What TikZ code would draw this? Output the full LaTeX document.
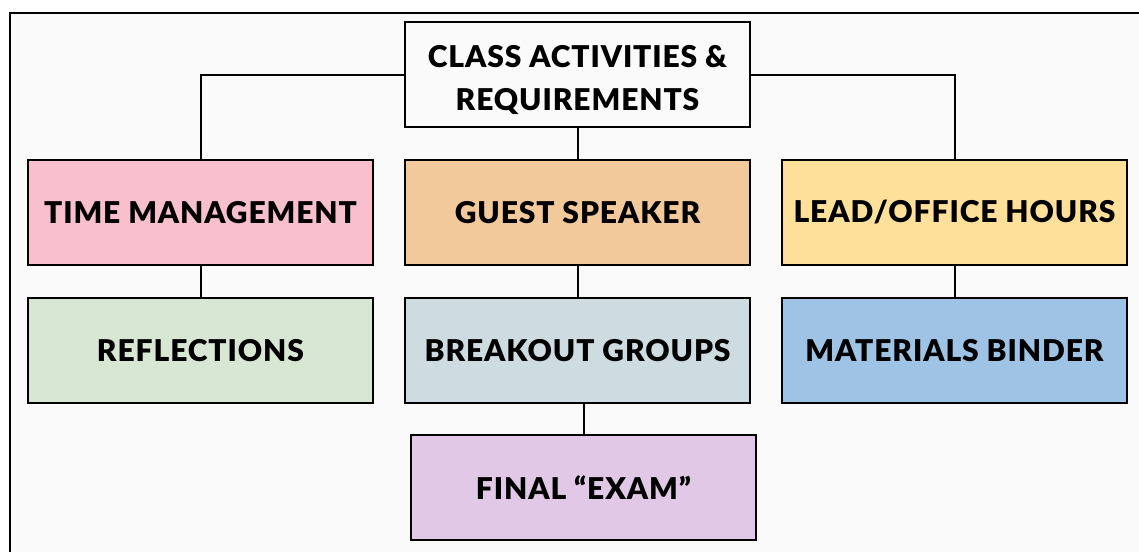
\documentclass[tikz,border=0pt]{standalone}
\usepackage{fontspec}
\setmainfont{Lato}
\newfontfamily\labelfont{Lato Black}[LetterSpace=3]
\begin{document}
\begin{tikzpicture}[x=1pt,y=-1pt,
  labeltext/.style={align=center, font=\fontsize{30}{43}\selectfont\labelfont},
  box/.style={draw=black, line width=2pt, rectangle, minimum width=345pt, minimum height=105pt,
    inner sep=0pt, labeltext},
  link/.style={draw=black, line width=2pt}]
  \useasboundingbox (0,0) rectangle (1139,552);
  \fill[white] (0,0) rectangle (1139,552);
  \fill[black!2] (10,13) rectangle (1139,552);
  \draw[line width=2pt] (10,552) -- (10,13) -- (1139,13);

  % root box, with its two-line title set a little below centre
  \node[box, fill=white!98!black] (root) at (577.5,74.5) {};
  \node[labeltext] (roottext) at ([yshift=-5pt]root.center) {CLASS ACTIVITIES \&\\REQUIREMENTS};

  \node[box, fill={rgb,255:red,248;green,192;blue,204}] (tm) at (200.5,212.5) {TIME MANAGEMENT};
  \node[box, fill={rgb,255:red,242;green,201;blue,155}] (gs) at (577.5,212.5) {GUEST SPEAKER};
  \node[box, fill={rgb,255:red,254;green,224;blue,155}] (lo) at (954.5,212.5) {LEAD/OFFICE HOURS};
  \node[box, fill={rgb,255:red,216;green,230;blue,212}] (rf) at (200.5,350.5) {REFLECTIONS};
  \node[box, fill={rgb,255:red,206;green,220;blue,226}] (bg) at (577.5,350.5) {BREAKOUT GROUPS};
  \node[box, fill={rgb,255:red,158;green,195;blue,229}] (mb) at (954.5,350.5) {MATERIALS BINDER};
  \node[box, fill={rgb,255:red,225;green,200;blue,230}] (fe) at (583.5,487.5) {FINAL “EXAM”};

  \draw[link] (root.west) -| (tm.north);
  \draw[link] (root.east) -| (lo.north);
  \draw[link] (root.south) -- (gs.north);
  \draw[link] (tm.south) -- (rf.north);
  \draw[link] (gs.south) -- (bg.north);
  \draw[link] (lo.south) -- (mb.north);
  \draw[link] (fe.north) -- (fe.north |- bg.south);
\end{tikzpicture}
\end{document}
